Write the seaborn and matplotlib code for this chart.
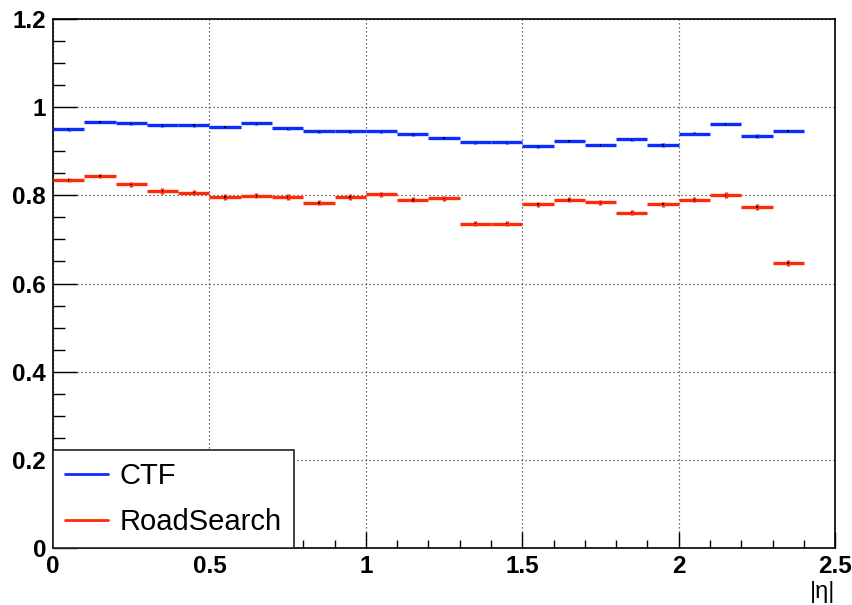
import numpy as np
import pandas as pd
import matplotlib
matplotlib.use('Agg')
import matplotlib.pyplot as plt
from matplotlib.ticker import MultipleLocator
import seaborn as sns

# bin edges in |eta|: 24 bins of width 0.1 from 0 to 2.4
eta_lo = [0.0, 0.1, 0.2, 0.3, 0.4, 0.5, 0.6, 0.7, 0.8, 0.9, 1.0, 1.1,
          1.2, 1.3, 1.4, 1.5, 1.6, 1.7, 1.8, 1.9, 2.0, 2.1, 2.2, 2.3]
bin_width = 0.1

ctf_eff = [0.950, 0.966, 0.963, 0.959, 0.959, 0.955, 0.963, 0.952,
           0.945, 0.945, 0.945, 0.938, 0.930, 0.920, 0.920, 0.911,
           0.923, 0.914, 0.927, 0.914, 0.940, 0.962, 0.934, 0.946]
ctf_err = [0.003, 0.003, 0.003, 0.003, 0.003, 0.003, 0.003, 0.003,
           0.003, 0.003, 0.003, 0.003, 0.003, 0.003, 0.003, 0.003,
           0.003, 0.003, 0.003, 0.004, 0.004, 0.003, 0.004, 0.003]

rs_eff = [0.835, 0.844, 0.825, 0.810, 0.806, 0.796, 0.799, 0.796,
          0.783, 0.796, 0.802, 0.790, 0.793, 0.736, 0.736, 0.780,
          0.790, 0.784, 0.761, 0.780, 0.790, 0.800, 0.774, 0.647]
rs_err = [0.005, 0.005, 0.006, 0.006, 0.006, 0.006, 0.006, 0.006,
          0.006, 0.006, 0.006, 0.006, 0.006, 0.006, 0.006, 0.006,
          0.006, 0.006, 0.006, 0.006, 0.006, 0.007, 0.007, 0.007]

series_names = ['CTF', 'RoadSearch']
series_colors = ['#0a2eff', '#ff2a0a']

sns.set_style('white')
plt.rcParams['font.family'] = ['Liberation Sans', 'DejaVu Sans']
plt.rcParams['text.color'] = 'black'
plt.rcParams['xtick.color'] = 'black'
plt.rcParams['ytick.color'] = 'black'
plt.rcParams['axes.labelcolor'] = 'black'

# build one long table for the two curves
centers = np.array(eta_lo) + bin_width / 2
frames = []
for name, eff, err in zip(series_names, [ctf_eff, rs_eff], [ctf_err, rs_err]):
    frames.append(pd.DataFrame({'eta': centers, 'eff': eff, 'err': err, 'algo': name}))
df = pd.concat(frames, ignore_index=True)

fig = plt.figure(figsize=(8.53, 6.05), dpi=100)
ax = fig.add_axes([0.0621, 0.0942, 0.9169, 0.8744])

handles = []
for name, color in zip(series_names, series_colors):
    d = df[df['algo'] == name]
    ax.errorbar(d['eta'], d['eff'], xerr=bin_width / 2, yerr=d['err'],
                fmt='none', ecolor=color, elinewidth=2.4, capsize=0,
                label=name, zorder=3)
    handles.append(plt.Line2D([], [], color=color, lw=2.0))

# tiny black dots in the bin centres
sns.scatterplot(data=df, x='eta', y='eff', color='black', s=1.2, marker='s',
                edgecolor='none', legend=False, ax=ax, zorder=4)

ax.set_xlim(0, 2.5)
ax.set_ylim(0, 1.2)
ax.xaxis.set_minor_locator(MultipleLocator(0.1))
ax.yaxis.set_minor_locator(MultipleLocator(0.05))
ax.set_xticks([0, 0.5, 1, 1.5, 2, 2.5])
ax.set_xticklabels(['0', '0.5', '1', '1.5', '2', '2.5'])
ax.set_yticks([0, 0.2, 0.4, 0.6, 0.8, 1.0, 1.2])
ax.set_yticklabels(['0', '0.2', '0.4', '0.6', '0.8', '1', '1.2'])

ax.grid(True, which='major', color='#444444', linestyle=(0, (1, 2.2)), linewidth=0.9)
ax.tick_params(axis='x', which='major', direction='in', length=11.5, width=1.0,
               labelsize=17.5, pad=5, top=False, bottom=True)
ax.tick_params(axis='x', which='minor', direction='in', length=5.8, width=1.0,
               top=False, bottom=True)
ax.tick_params(axis='y', which='major', direction='in', length=17, width=1.0,
               labelsize=17.5, pad=5, left=True, right=False)
ax.tick_params(axis='y', which='minor', direction='in', length=8.5, width=1.0,
               left=True, right=False)
for lab in ax.get_xticklabels() + ax.get_yticklabels():
    lab.set_fontweight('bold')

for sp in ax.spines.values():
    sp.set_visible(True)
    sp.set_color('black')
    sp.set_linewidth(1.2)

ax.set_xlabel('|η|', fontsize=17, loc='right', labelpad=2)
ax.set_ylabel('')

leg = ax.legend(handles, series_names, loc='lower left', bbox_to_anchor=(0, 0),
                borderaxespad=0, fancybox=False, framealpha=1, edgecolor='#222222',
                fontsize=21, handlelength=1.45, handletextpad=0.4,
                labelspacing=0.6, borderpad=0.42)
leg.get_frame().set_linewidth(1.2)
leg.set_zorder(10)

fig.savefig('out.png', dpi=100, facecolor='white')
